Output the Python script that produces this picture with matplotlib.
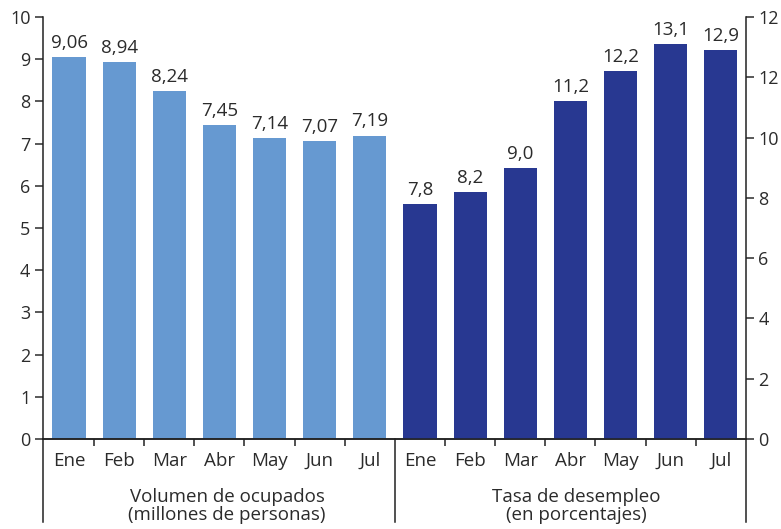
import numpy as np
import matplotlib.pyplot as plt
from matplotlib import transforms

plt.rcParams['font.family'] = ['Open Sans', 'DejaVu Sans']

# Datos
meses = ['Ene', 'Feb', 'Mar', 'Abr', 'May', 'Jun', 'Jul']
ocupados = [9.06, 8.94, 8.24, 7.45, 7.14, 7.07, 7.19]
desempleo = [7.8, 8.2, 9.0, 11.2, 12.2, 13.1, 12.9]
etiquetas_ocupados = ['9,06', '8,94', '8,24', '7,45', '7,14', '7,07', '7,19']
etiquetas_desempleo = ['7,8', '8,2', '9,0', '11,2', '12,2', '13,1', '12,9']
ticks_der = [0, 2, 4, 6, 8, 10, 12, 14]
ticks_der_labels = ['0', '2', '4', '6', '8', '10', '12', '12']
grupos = ['Volumen de ocupados\n(millones de personas)',
          'Tasa de desempleo\n(en porcentajes)']

AZUL_CLARO = '#6699d1'
AZUL_OSCURO = '#283891'
TEXTO = '#2b2b2b'

fig = plt.figure(figsize=(7.81, 5.29), dpi=100)
ax = fig.add_axes([0.055, 0.170, 0.900, 0.798])
ax2 = ax.twinx()

x1 = np.arange(len(meses))
x2 = np.arange(len(meses)) + len(meses)

ax.bar(x1, ocupados, width=0.66, color=AZUL_CLARO, zorder=2)
ax2.bar(x2, desempleo, width=0.66, color=AZUL_OSCURO, zorder=2)

for xi, v, t in zip(x1, ocupados, etiquetas_ocupados):
    ax.text(xi, v + 0.12, t, ha='center', va='bottom', fontsize=13.5, color=TEXTO)
for xi, v, t in zip(x2, desempleo, etiquetas_desempleo):
    ax2.text(xi, v + 0.17, t, ha='center', va='bottom', fontsize=13.5, color=TEXTO)

ax.set_xlim(-0.52, 13.5)
ax.set_ylim(0, 10)
ax2.set_ylim(0, 14)

ax.set_yticks(range(0, 11))
ax2.set_yticks(ticks_der)
ax2.set_yticklabels(ticks_der_labels)

for a in (ax, ax2):
    a.spines['top'].set_visible(False)
    for s in a.spines.values():
        s.set_linewidth(1.1)
        s.set_color('#222222')
ax2.spines['left'].set_visible(False)
ax.spines['right'].set_visible(False)

ax.tick_params(axis='y', direction='out', length=6, width=1.1, labelsize=13,
               colors=TEXTO, pad=3)
ax2.tick_params(axis='y', direction='out', length=6, width=1.1, labelsize=13,
                colors=TEXTO, pad=3)

# meses bajo cada barra, marcas pequeñas entre barras
ax.set_xticks(np.concatenate([x1, x2]))
ax.set_xticklabels(meses + meses)
ax.tick_params(axis='x', which='major', length=0, labelsize=13.5, colors=TEXTO, pad=9)
minor = [p + 0.5 for p in range(13) if p != 6]
ax.set_xticks(minor, minor=True)
ax.tick_params(axis='x', which='minor', direction='out', length=5, width=1.1,
               color='#222222')

# líneas verticales de separación de los grupos
trans = transforms.blended_transform_factory(ax.transData, ax.transAxes)
for xv in (-0.52, 6.5, 13.5):
    ax.plot([xv, xv], [0, -0.197], transform=trans, color='#222222', lw=1.1,
            clip_on=False)

ax.text(3.15, -0.115, grupos[0], transform=trans, ha='center', va='top',
        fontsize=13.5, color=TEXTO, linespacing=1.05)
ax.text(10.12, -0.115, grupos[1], transform=trans, ha='center', va='top',
        fontsize=13.5, color=TEXTO, linespacing=1.05)

fig.savefig('out.png', dpi=100)
